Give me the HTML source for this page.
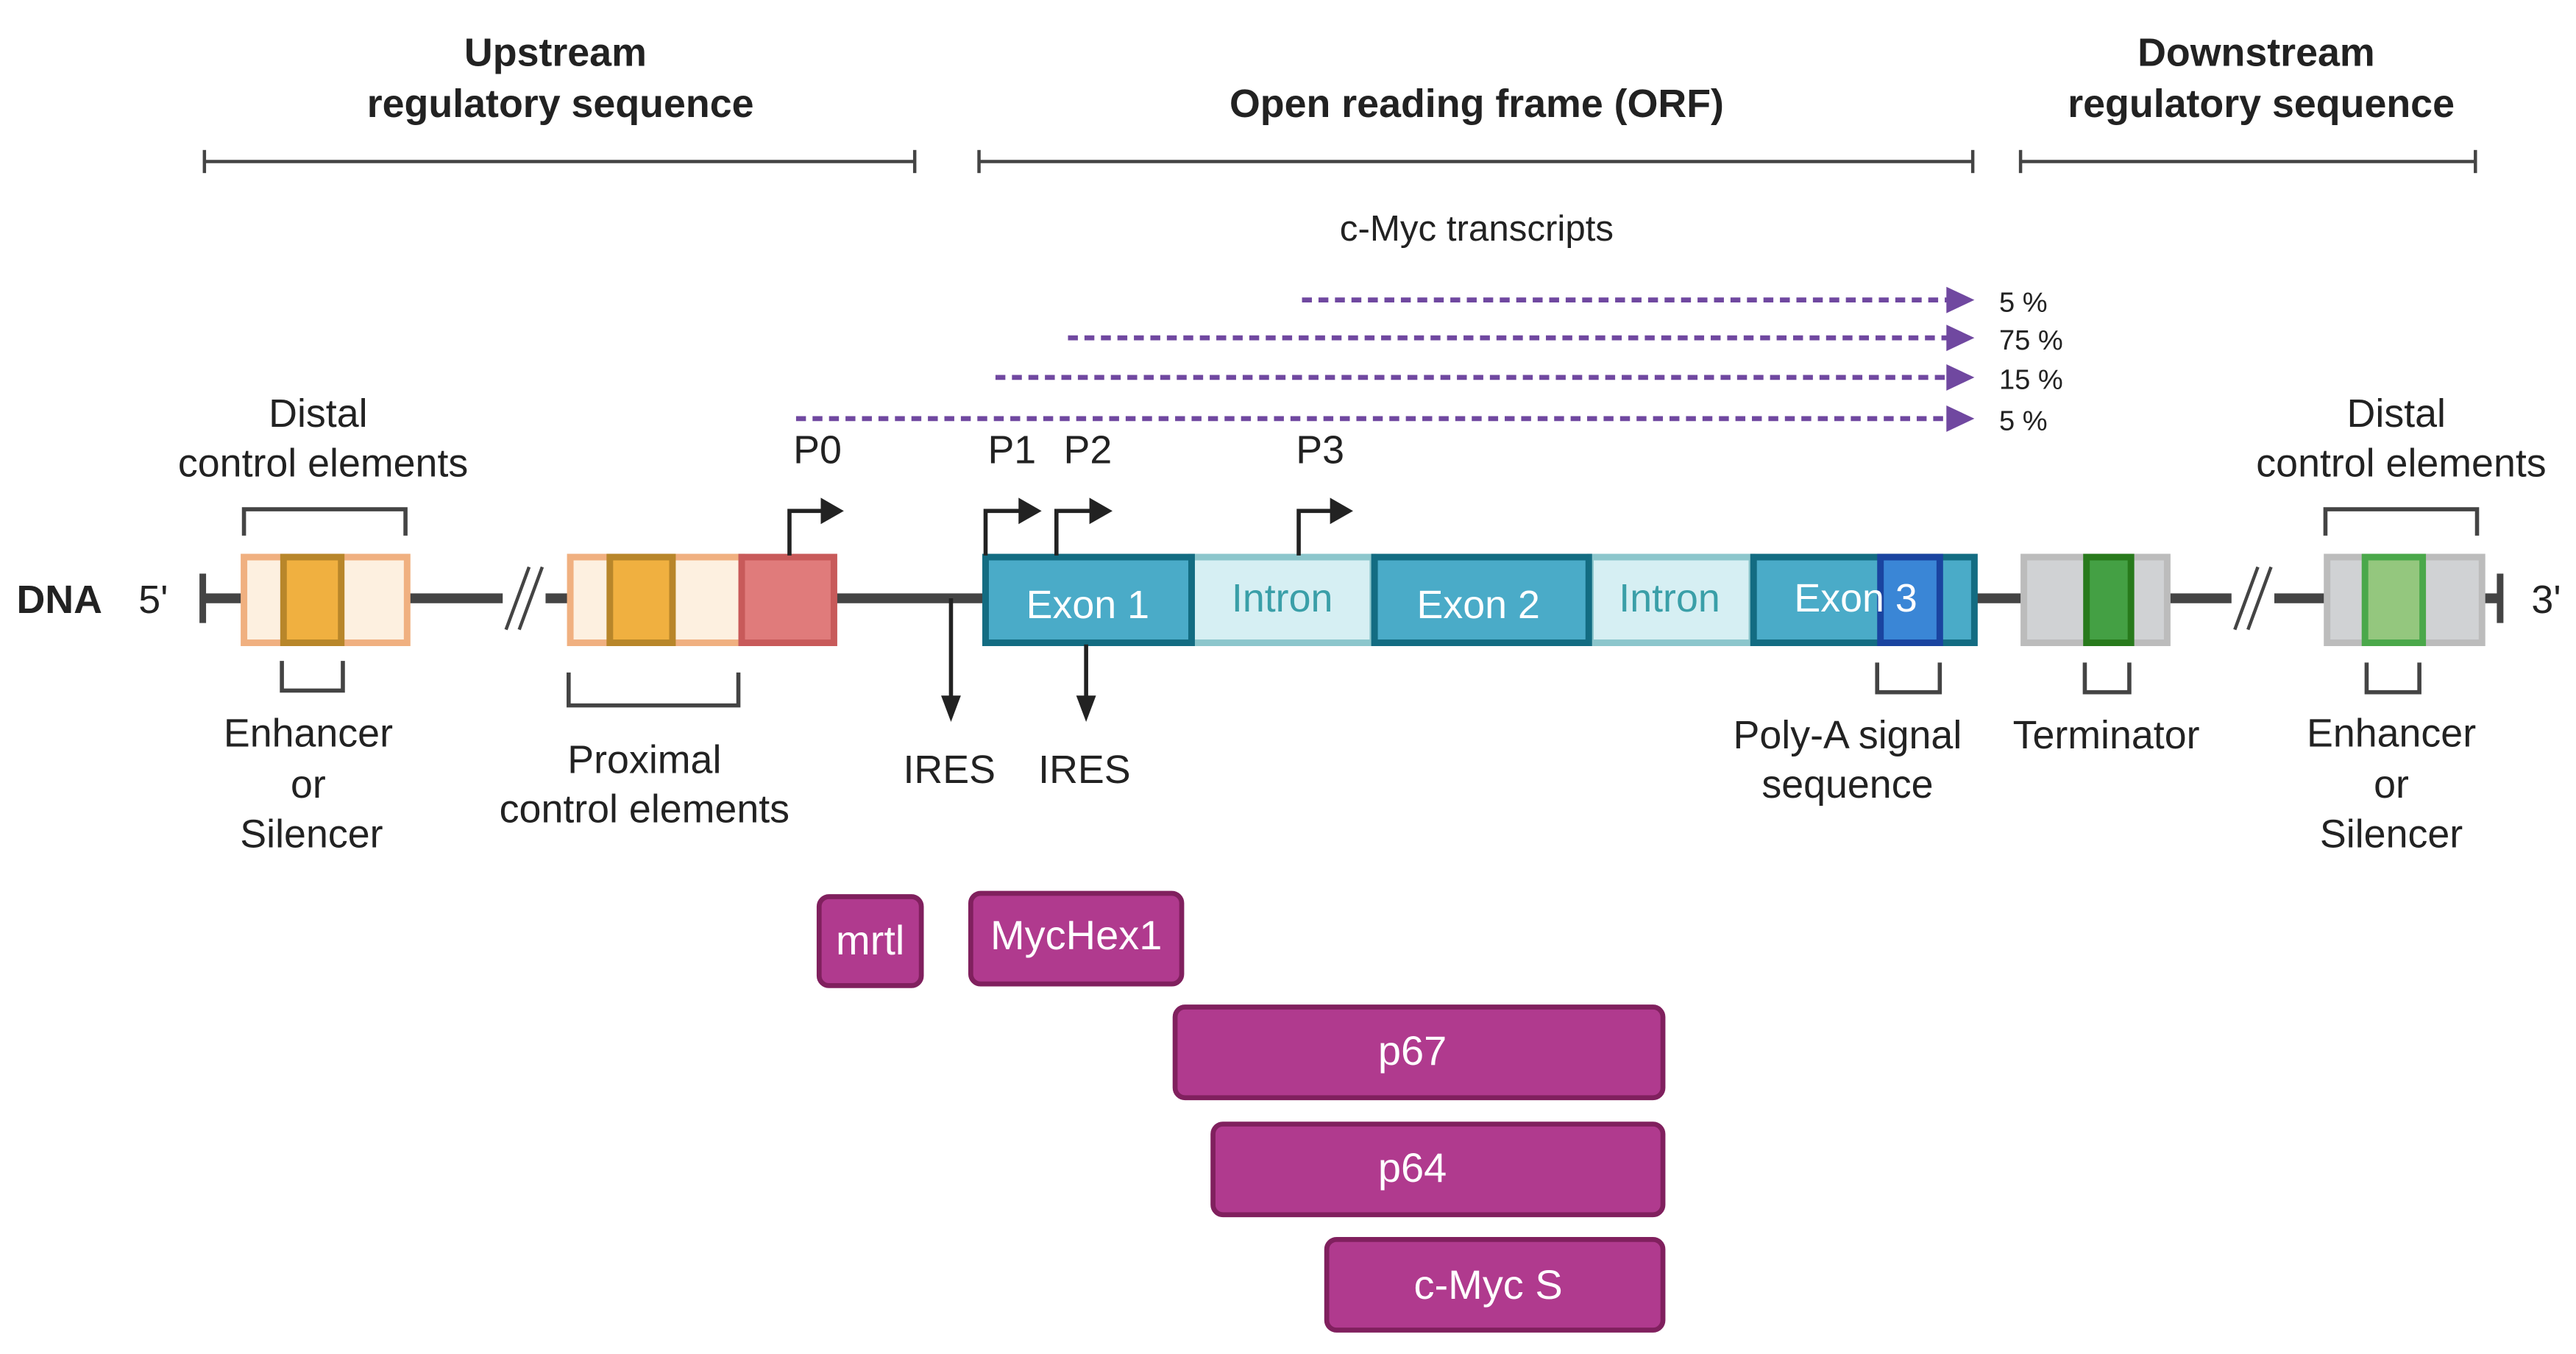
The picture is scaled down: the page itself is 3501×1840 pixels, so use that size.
<!DOCTYPE html>
<html><head><meta charset="utf-8"><style>
html,body{margin:0;padding:0;background:#fff;}
svg{display:block;}
text{font-family:"Liberation Sans",sans-serif;}
</style></head><body>
<svg width="3501" height="1840" viewBox="0 0 1563 821.5" xmlns="http://www.w3.org/2000/svg">
<defs>
<marker id="pa" markerWidth="4" markerHeight="4" refX="1" refY="2" orient="auto" markerUnits="userSpaceOnUse"></marker>
</defs>
<g fill="#222" font-weight="bold" font-size="24" text-anchor="middle">
<text x="337" y="40">Upstream</text>
<text x="340" y="71">regulatory sequence</text>
<text x="896" y="71">Open reading frame (ORF)</text>
<text x="1369" y="40">Downstream</text>
<text x="1372" y="71">regulatory sequence</text>
</g>
<g stroke="#444" stroke-width="2">
<line x1="124" y1="98" x2="555" y2="98"/><line x1="124" y1="91" x2="124" y2="105"/><line x1="555" y1="91" x2="555" y2="105"/>
<line x1="594" y1="98" x2="1197" y2="98"/><line x1="594" y1="91" x2="594" y2="105"/><line x1="1197" y1="91" x2="1197" y2="105"/>
<line x1="1226" y1="98" x2="1502" y2="98"/><line x1="1226" y1="91" x2="1226" y2="105"/><line x1="1502" y1="91" x2="1502" y2="105"/>
</g>
<text x="896" y="146" font-size="22" text-anchor="middle" fill="#222">c-Myc transcripts</text>
<g stroke="#7048a0" stroke-width="3" stroke-dasharray="6,4">
<line x1="790" y1="182" x2="1183" y2="182"/>
<line x1="648" y1="205" x2="1183" y2="205"/>
<line x1="604" y1="229" x2="1183" y2="229"/>
<line x1="483" y1="254" x2="1183" y2="254"/>
</g>
<g fill="#7048a0">
<polygon points="1181,174 1198,182 1181,190"/>
<polygon points="1181,197 1198,205 1181,213"/>
<polygon points="1181,221 1198,229 1181,237"/>
<polygon points="1181,246 1198,254 1181,262"/>
</g>
<g font-size="17" fill="#222">
<text x="1213" y="189">5 %</text><text x="1213" y="212">75 %</text><text x="1213" y="236">15 %</text><text x="1213" y="261">5 %</text>
</g>
<!-- DNA line -->
<g stroke="#444" stroke-width="6">
<line x1="122" y1="363" x2="1518" y2="363"/>
</g>
<g stroke="#444" stroke-width="4"><line x1="123" y1="348" x2="123" y2="378"/><line x1="1517" y1="348" x2="1517" y2="378"/></g>
<text x="10" y="372" font-size="24" font-weight="bold" fill="#222">DNA</text>
<text x="84" y="372" font-size="24" fill="#222">5'</text>
<text x="1536" y="372" font-size="24" fill="#222">3'</text>
<!-- breaks -->
<g><rect x="305" y="355" width="26" height="16" fill="#fff"/><line x1="307" y1="382" x2="321" y2="344" stroke="#444" stroke-width="2"/><line x1="315" y1="382" x2="329" y2="344" stroke="#444" stroke-width="2"/></g>
<g><rect x="1354" y="355" width="26" height="16" fill="#fff"/><line x1="1356" y1="382" x2="1370" y2="344" stroke="#444" stroke-width="2"/><line x1="1364" y1="382" x2="1378" y2="344" stroke="#444" stroke-width="2"/></g>
<!-- distal left -->
<rect x="148" y="338" width="99" height="52" fill="#fdf0e0" stroke="#f0b080" stroke-width="4"/>
<rect x="172" y="338" width="35" height="52" fill="#f0b040" stroke="#b8862a" stroke-width="4"/>
<path d="M148,325 V309 H246 V325" fill="none" stroke="#444" stroke-width="2.5"/>
<path d="M171,401 V419 H208 V401" fill="none" stroke="#444" stroke-width="2.5"/>
<!-- proximal -->
<rect x="346" y="338" width="104" height="52" fill="#fdf0e0" stroke="#f0b080" stroke-width="4"/>
<rect x="370" y="338" width="38" height="52" fill="#f0b040" stroke="#b8862a" stroke-width="4"/>
<rect x="450" y="338" width="56" height="52" fill="#e07b7b" stroke="#c85a5a" stroke-width="4"/>
<path d="M345,408 V428 H448 V408" fill="none" stroke="#444" stroke-width="2.5"/>
<!-- exons -->
<rect x="723" y="338" width="110" height="52" fill="#d6eff3" stroke="#8cc6cc" stroke-width="4"/>
<rect x="965" y="338" width="98" height="52" fill="#d6eff3" stroke="#8cc6cc" stroke-width="4"/>
<rect x="598" y="338" width="125" height="52" fill="#4aabc8" stroke="#136c82" stroke-width="4"/>
<rect x="834" y="338" width="130" height="52" fill="#4aabc8" stroke="#136c82" stroke-width="4"/>
<rect x="1064" y="338" width="134" height="52" fill="#4aabc8" stroke="#136c82" stroke-width="4"/>
<rect x="1141" y="338" width="36" height="52" fill="#3a86d6" stroke="#1a44a0" stroke-width="4"/>
<g font-size="24" text-anchor="middle">
<text x="660" y="375" fill="#fff">Exon 1</text>
<text x="778" y="371" fill="#3a9fa8">Intron</text>
<text x="897" y="375" fill="#fff">Exon 2</text>
<text x="1013" y="371" fill="#3a9fa8">Intron</text>
<text x="1126" y="371" fill="#fff">Exon 3</text>
</g>
<path d="M1139,402 V420 H1177 V402" fill="none" stroke="#444" stroke-width="2.5"/>
<!-- terminator -->
<rect x="1228" y="338" width="87" height="52" fill="#d0d2d4" stroke="#bcbcbc" stroke-width="4"/>
<rect x="1266" y="338" width="27" height="52" fill="#44a044" stroke="#287a1c" stroke-width="4"/>
<path d="M1265,402 V420 H1292 V402" fill="none" stroke="#444" stroke-width="2.5"/>
<!-- distal right -->
<rect x="1412" y="338" width="94" height="52" fill="#d0d2d4" stroke="#bcbcbc" stroke-width="4"/>
<rect x="1435" y="338" width="35" height="52" fill="#94c77e" stroke="#4aa84a" stroke-width="4"/>
<path d="M1411,325 V309 H1503 V325" fill="none" stroke="#444" stroke-width="2.5"/>
<path d="M1436,402 V420 H1468 V402" fill="none" stroke="#444" stroke-width="2.5"/>
<!-- promoter arrows -->
<g fill="none" stroke="#222" stroke-width="2.5">
<path d="M479,337 V310 H500"/><path d="M598,337 V310 H620"/><path d="M641,337 V310 H663"/><path d="M788,337 V310 H809"/>
<line x1="577" y1="363" x2="577" y2="425"/><line x1="659" y1="391" x2="659" y2="425"/>
</g>
<g fill="#222">
<polygon points="498,302 512,310 498,318"/><polygon points="618,302 632,310 618,318"/><polygon points="661,302 675,310 661,318"/><polygon points="807,302 821,310 807,318"/>
<polygon points="571,422 583,422 577,438"/><polygon points="653,422 665,422 659,438"/>
</g>
<g font-size="24" fill="#222" text-anchor="middle">
<text x="496" y="281">P0</text><text x="614" y="281">P1</text><text x="660" y="281">P2</text><text x="801" y="281">P3</text>
<text x="193" y="259">Distal</text><text x="196" y="289">control elements</text>
<text x="1454" y="259">Distal</text><text x="1457" y="289">control elements</text>
<text x="187" y="453">Enhancer</text><text x="187" y="484">or</text><text x="189" y="514">Silencer</text>
<text x="1451" y="453">Enhancer</text><text x="1451" y="484">or</text><text x="1451" y="514">Silencer</text>
<text x="391" y="469">Proximal</text><text x="391" y="499">control elements</text>
<text x="576" y="475">IRES</text><text x="658" y="475">IRES</text>
<text x="1121" y="454">Poly-A signal</text><text x="1121" y="484">sequence</text>
<text x="1278" y="454">Terminator</text>
</g>
<!-- proteins -->
<g fill="#b03a8e" stroke="#80205e" stroke-width="3">
<rect x="497" y="544" width="62" height="54" rx="6"/>
<rect x="589" y="542" width="128" height="55" rx="6"/>
<rect x="713" y="611" width="296" height="55" rx="6"/>
<rect x="736" y="682" width="273" height="55" rx="6"/>
<rect x="805" y="752" width="204" height="55" rx="6"/>
</g>
<g font-size="25" fill="#fff" text-anchor="middle">
<text x="528" y="579">mrtl</text>
<text x="653" y="576">MycHex1</text>
<text x="857" y="646">p67</text>
<text x="857" y="717">p64</text>
<text x="903" y="788">c-Myc S</text>
</g>
</svg>
</body></html>
